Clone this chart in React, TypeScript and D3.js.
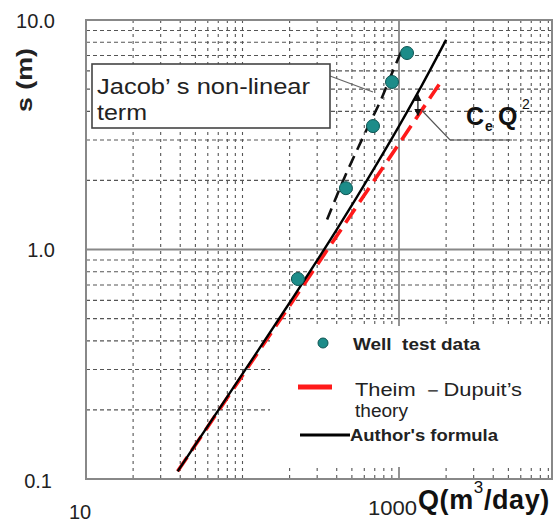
import React from "react";
import * as d3 from "d3";

// ---- data ----
const wellQ = [226, 458, 682, 902, 1125];
const wellS = [0.744, 1.85, 3.45, 5.37, 7.18];

const theimQ = [38.5, 1910];
const theimS = [0.108, 5.55];

const authorQ = [38.5, 100, 200, 400, 700, 1000, 1400, 2000];
const authorS = [0.108, 0.287, 0.586, 1.22, 2.28, 3.45, 5.19, 8.2];

const jacobQ = [347, 450, 547, 650, 757, 900, 1062];
const jacobS = [1.35, 2.07, 2.77, 3.55, 4.4, 5.85, 7.6];

const yTickLabels = ["10.0", "1.0", "0.1"];
const yTickValues = [10, 1, 0.1];
const xTickLabels = ["10", "1000"];
const xTickValues = [10, 1000];

const W = 560;
const H = 522;
const L = 86, R = 552, T = 20, B = 479;

export default function App() {
  const x = d3.scaleLog().domain([10, 10000]).range([L, 555.5]);
  const y = d3.scaleLog().domain([0.1, 10]).range([B, T]);

  const vGrid: number[] = [];
  for (const dec of [10, 100, 1000]) {
    for (let k = 1; k <= 9; k++) {
      const v = dec * k;
      if (v === 10 || v === 1000) continue;
      if (x(v) < R - 1) vGrid.push(v);
    }
  }
  const hGrid: number[] = [];
  for (const dec of [0.1, 1]) {
    for (let k = 2; k <= 9; k++) hGrid.push(dec * k);
  }

  const line = d3
    .line<[number, number]>()
    .x((d) => x(d[0]))
    .y((d) => y(d[1]))
    .curve(d3.curveMonotoneX);

  const theim = line(theimQ.map((q, i) => [q, theimS[i]]));
  const author = line(authorQ.map((q, i) => [q, authorS[i]]));
  const jacob = line(jacobQ.map((q, i) => [q, jacobS[i]]));

  const font = "'Liberation Sans', Arial, Helvetica, sans-serif";
  const teal = "#1c8c89";

  // CeQ^2 arrow location
  const arrowQ = 1321;
  const arrowTop = y(4.83);
  const arrowBot = y(3.76);
  const ax = x(arrowQ);

  return (
    <svg
      width={W}
      height={H}
      style={{ position: "absolute", left: 0, top: 0, background: "#fff" }}
      fontFamily={font}
    >
      <defs>
        <marker id="ah" viewBox="0 0 10 10" refX="9" refY="5" markerWidth="6" markerHeight="7" orient="auto-start-reverse">
          <path d="M0,0 L10,5 L0,10 z" fill="#111" />
        </marker>
      </defs>
      <rect x={0} y={0} width={W} height={H} fill="#fff" />

      {/* grid */}
      {hGrid.map((v) => (
        <line key={"h" + v} x1={L} x2={R} y1={y(v)} y2={y(v)} stroke="#555" strokeWidth={1.1} strokeDasharray="4,3" />
      ))}
      {vGrid.map((v) => (
        <line key={"v" + v} x1={x(v)} x2={x(v)} y1={T} y2={B} stroke="#555" strokeWidth={1.1} strokeDasharray="3,4" />
      ))}
      <line x1={L} x2={R} y1={y(1)} y2={y(1)} stroke="#888" strokeWidth={1.8} />
      <line x1={x(1000)} x2={x(1000)} y1={T} y2={B} stroke="#888" strokeWidth={1.8} />

      {/* legend background */}
      <rect x={270} y={326} width={281} height={141} fill="#fff" />

      {/* lines */}
      <path d={theim || ""} fill="none" stroke="#ff1a1a" strokeWidth={3.6} strokeDasharray="17,8" />
      <path d={author || ""} fill="none" stroke="#000" strokeWidth={2.4} />
      <path d={jacob || ""} fill="none" stroke="#111" strokeWidth={2.6} strokeDasharray="12,7" />

      {/* well test points */}
      {wellQ.map((q, i) => (
        <circle key={"p" + i} cx={x(q)} cy={y(wellS[i])} r={6.5} fill={teal} stroke="#0e5553" strokeWidth={1} />
      ))}

      {/* Jacob annotation */}
      <line x1={330} y1={76} x2={373} y2={92} stroke="#666" strokeWidth={1.2} />
      <rect x={92} y={64} width={238} height={64} fill="#fff" stroke="#444" strokeWidth={1.6} />
      <text x={97} y={86} fontSize={22} dominantBaseline="central" fill="#222" textLength={213} lengthAdjust="spacingAndGlyphs">
        Jacob’ s non-linear
      </text>
      <text x={97} y={112} fontSize={22} dominantBaseline="central" fill="#222" textLength={50} lengthAdjust="spacingAndGlyphs">
        term
      </text>

      {/* CeQ2 annotation */}
      <line x1={ax} x2={ax} y1={arrowTop + 2} y2={arrowBot - 2} stroke="#111" strokeWidth={1.2} markerStart="url(#ah)" markerEnd="url(#ah)" />
      <polyline points={`${ax + 4},${arrowTop + 18} 450,140 512,140`} fill="none" stroke="#555" strokeWidth={1.2} />
      <text x={466} y={116} fontSize={25} fontWeight="bold" dominantBaseline="central" fill="#111">
        C
      </text>
      <text x={485} y={126} fontSize={14} fontWeight="bold" dominantBaseline="central" fill="#111">
        e
      </text>
      <text x={498} y={116} fontSize={25} fontWeight="bold" dominantBaseline="central" fill="#111">
        Q
      </text>
      <text x={522} y={104} fontSize={14} dominantBaseline="central" fill="#111">
        2
      </text>

      {/* legend */}
      <circle cx={323} cy={343} r={5} fill={teal} stroke="#0e5553" strokeWidth={1} />
      <text x={353} y={344} fontSize={17} fontWeight="bold" dominantBaseline="central" fill="#222" textLength={127} lengthAdjust="spacingAndGlyphs" style={{ whiteSpace: "pre" }}>
        {"Well  test data"}
      </text>
      <line x1={298} x2={332} y1={387} y2={387} stroke="#ff1a1a" strokeWidth={5} />
      <text x={355} y={390} fontSize={18} dominantBaseline="central" fill="#222" textLength={167} lengthAdjust="spacingAndGlyphs">
        Theim －Dupuit’s
      </text>
      <text x={355} y={411} fontSize={18} dominantBaseline="central" fill="#222" textLength={53} lengthAdjust="spacingAndGlyphs">
        theory
      </text>
      <line x1={300} x2={350} y1={435} y2={435} stroke="#000" strokeWidth={3} />
      <text x={350} y={435} fontSize={17} fontWeight="bold" dominantBaseline="central" fill="#222" textLength={148} lengthAdjust="spacingAndGlyphs">
        Author's formula
      </text>

      {/* frame */}
      <rect x={L} y={T} width={R - L} height={B - T} fill="none" stroke="#888" strokeWidth={2} />

      {/* y tick labels */}
      {yTickValues.map((v, i) => (
        <text key={"yt" + i} x={v === 0.1 ? 52 : 55} y={y(v) + (v === 0.1 ? 2 : v === 10 ? 1 : 0)} fontSize={20} textAnchor="end" dominantBaseline="central" fill="#222">
          {yTickLabels[i]}
        </text>
      ))}
      {/* x tick labels */}
      <text x={x(xTickValues[0]) - 6} y={512} fontSize={20} textAnchor="middle" dominantBaseline="central" fill="#222">
        {xTickLabels[0]}
      </text>
      <text x={368} y={508} fontSize={20} dominantBaseline="central" fill="#222" textLength={49} lengthAdjust="spacingAndGlyphs">
        {xTickLabels[1]}
      </text>

      {/* axis titles */}
      <text x={418} y={500} fontSize={27} fontWeight="bold" dominantBaseline="central" fill="#111" letterSpacing={0.6}>
        Q(m
        <tspan dy={-13} fontSize={17} fontWeight="normal">3</tspan>
        <tspan dy={13}>/day)</tspan>
      </text>
      <text
        transform="translate(24,80) rotate(-90)"
        x={0}
        y={0}
        fontSize={22}
        fontWeight="bold"
        textAnchor="middle"
        dominantBaseline="central"
        fill="#222"
        textLength={64}
        lengthAdjust="spacingAndGlyphs"
      >
        s (m)
      </text>
    </svg>
  );
}
